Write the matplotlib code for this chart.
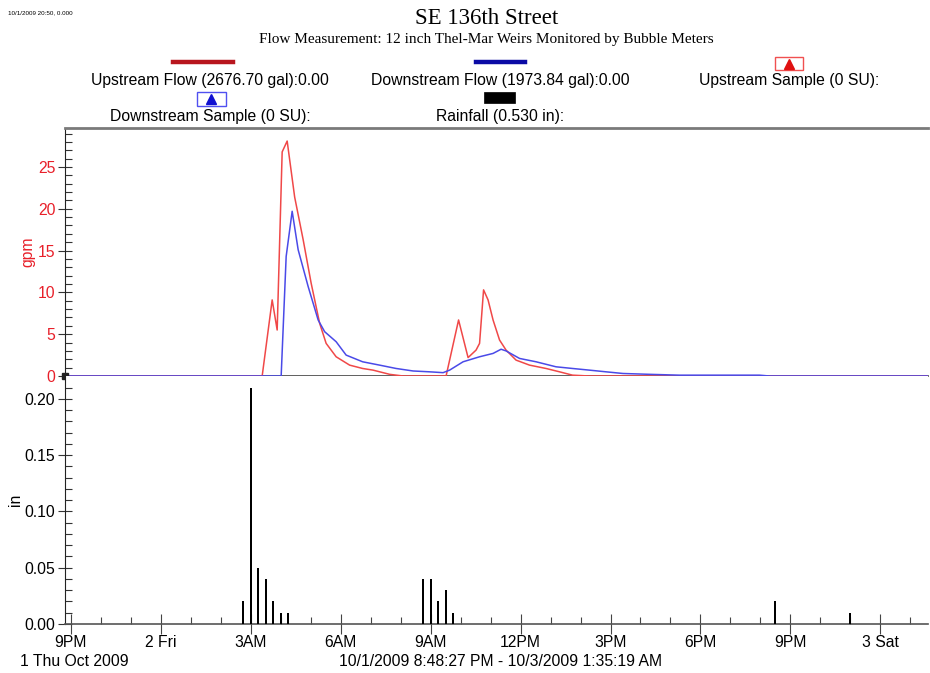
import numpy as np
import pandas as pd
import matplotlib
matplotlib.use("Agg")
import matplotlib.pyplot as plt
import matplotlib.dates as mdates
from matplotlib.lines import Line2D
from matplotlib.patches import Rectangle

plt.rcParams['font.family'] = ['Liberation Sans', 'DejaVu Sans']

# ---------------- data ----------------
start = "2009-10-01 20:48:27"
end = "2009-10-03 01:35:19"

up_times = ["2009-10-01 20:48:27", "2009-10-02 03:23", "2009-10-02 03:43", "2009-10-02 03:53",
            "2009-10-02 04:03", "2009-10-02 04:13", "2009-10-02 04:28", "2009-10-02 04:45",
            "2009-10-02 05:01", "2009-10-02 05:18", "2009-10-02 05:31", "2009-10-02 05:51",
            "2009-10-02 06:18", "2009-10-02 06:44", "2009-10-02 07:05", "2009-10-02 07:38",
            "2009-10-02 08:05", "2009-10-02 09:31", "2009-10-02 09:56", "2009-10-02 10:15",
            "2009-10-02 10:31", "2009-10-02 10:38", "2009-10-02 10:46", "2009-10-02 10:55",
            "2009-10-02 11:05", "2009-10-02 11:18", "2009-10-02 11:31", "2009-10-02 11:51",
            "2009-10-02 12:18", "2009-10-02 12:51", "2009-10-02 13:18", "2009-10-02 13:44",
            "2009-10-02 14:18", "2009-10-03 01:35:19"]
up_flow = [0, 0, 9.1, 5.5, 26.8, 28.1, 21.4, 16.3, 11.1, 6.3, 3.9, 2.3, 1.3, 0.9, 0.7, 0.2,
           0, 0, 6.7, 2.2, 3.1, 3.9, 10.3, 9.1, 6.7, 4.3, 3.1, 1.9, 1.3, 0.9, 0.5, 0.1, 0, 0]

down_times = ["2009-10-01 20:48:27", "2009-10-02 04:01", "2009-10-02 04:11", "2009-10-02 04:23",
              "2009-10-02 04:35", "2009-10-02 04:55", "2009-10-02 05:15", "2009-10-02 05:28",
              "2009-10-02 05:51", "2009-10-02 06:11", "2009-10-02 06:44", "2009-10-02 07:18",
              "2009-10-02 07:51", "2009-10-02 08:25", "2009-10-02 08:58", "2009-10-02 09:25",
              "2009-10-02 09:38", "2009-10-02 10:05", "2009-10-02 10:38", "2009-10-02 11:05",
              "2009-10-02 11:21", "2009-10-02 11:31", "2009-10-02 11:58", "2009-10-02 12:31",
              "2009-10-02 13:11", "2009-10-02 13:44", "2009-10-02 14:18", "2009-10-02 14:51",
              "2009-10-02 15:25", "2009-10-02 16:18", "2009-10-02 17:18", "2009-10-02 19:58",
              "2009-10-02 20:18", "2009-10-03 01:35:19"]
down_flow = [0, 0, 14.3, 19.7, 15.1, 10.7, 6.7, 5.3, 4.1, 2.5, 1.7, 1.3, 0.9, 0.6, 0.5, 0.4,
             0.7, 1.7, 2.3, 2.7, 3.2, 3.0, 2.1, 1.7, 1.1, 0.9, 0.7, 0.5, 0.3, 0.2, 0.1, 0.1, 0, 0]

rain_times = ["2009-10-02 02:45", "2009-10-02 03:00", "2009-10-02 03:15", "2009-10-02 03:30",
              "2009-10-02 03:45", "2009-10-02 04:00", "2009-10-02 04:15",
              "2009-10-02 08:45", "2009-10-02 09:00", "2009-10-02 09:15", "2009-10-02 09:30",
              "2009-10-02 09:45", "2009-10-02 20:30", "2009-10-02 23:00"]
rain_in = [0.02, 0.21, 0.05, 0.04, 0.02, 0.01, 0.01,
           0.04, 0.04, 0.02, 0.03, 0.01, 0.02, 0.01]

tick_times = ["2009-10-01 21:00", "2009-10-02 00:00", "2009-10-02 03:00", "2009-10-02 06:00",
              "2009-10-02 09:00", "2009-10-02 12:00", "2009-10-02 15:00", "2009-10-02 18:00",
              "2009-10-02 21:00", "2009-10-03 00:00"]
tick_labels = ["9PM", "2 Fri", "3AM", "6AM", "9AM", "12PM", "3PM", "6PM", "9PM", "3 Sat"]

gpm_ticks = [0, 5, 10, 15, 20, 25]
in_ticks = [0.00, 0.05, 0.10, 0.15, 0.20]

def dn(s):
    return mdates.date2num(pd.to_datetime(s, format='mixed'))

x_start, x_end = dn(start), dn(end)

# ---------------- figure ----------------
W, H = 930, 673
fig = plt.figure(figsize=(W / 100, H / 100), dpi=100)
fig.patch.set_facecolor('white')

L = 65 / W
Wd = 863 / W
ax1 = fig.add_axes([L, 1 - 376 / H, Wd, (376 - 128) / H])
ax2 = fig.add_axes([L, 1 - 624 / H, Wd, (624 - 376) / H], sharex=ax1)

RED = '#F04848'
BLUE = '#4A4AE8'
FS = 11.3

ax1.plot(dn(up_times), up_flow, color=RED, lw=1.1, zorder=3)
ax1.plot(dn(down_times), down_flow, color=BLUE, lw=1.1, zorder=4)
ax1.set_ylim(0, 29.66)
ax1.set_xlim(x_start, x_end)
ax1.set_yticks(gpm_ticks)
ax1.set_yticklabels([str(v) for v in gpm_ticks], color='#E8202A', fontsize=FS)
ax1.set_yticks(np.arange(0, 30, 1), minor=True)
ax1.tick_params(axis='y', which='major', direction='inout', length=10, width=0.8, color='#333333', pad=2)
ax1.tick_params(axis='y', which='minor', direction='in', length=5, width=0.8, color='#333333')
ax1.set_ylabel('gpm', color='#E8202A', fontsize=FS, labelpad=2)
ax1.tick_params(axis='x', which='both', bottom=False, labelbottom=False)
ax1.spines['right'].set_visible(False)
ax1.spines['top'].set_color('#7a7a7a')
ax1.spines['top'].set_linewidth(2.0)
ax1.spines['left'].set_color('#222222')
ax1.spines['bottom'].set_color('#444444')
ax1.spines['bottom'].set_linewidth(1.2)
ax1.plot([x_start], [0], marker='s', ms=5, color='#222222', clip_on=False, zorder=6)

ax2.bar(dn(rain_times), rain_in, width=4 / 1440, color='black', align='center', zorder=3)
ax2.set_ylim(0, 0.2204)
ax2.set_yticks(in_ticks)
ax2.set_yticklabels([f"{v:.2f}" for v in in_ticks], fontsize=FS)
ax2.set_yticks(np.arange(0, 0.22, 0.01), minor=True)
ax2.tick_params(axis='y', which='major', direction='inout', length=10, width=0.8, color='#333333', pad=2)
ax2.tick_params(axis='y', which='minor', direction='in', length=5, width=0.8, color='#333333')
ax2.set_ylabel('in', fontsize=FS, labelpad=1)
ax2.set_xticks(dn(tick_times))
ax2.set_xticklabels(tick_labels, fontsize=FS)
hour_ticks = mdates.date2num(pd.date_range("2009-10-01 21:00", "2009-10-03 01:00", freq="1h"))
ax2.set_xticks(hour_ticks, minor=True)
ax2.tick_params(axis='x', which='major', direction='inout', length=14, width=0.8, color='#444444', pad=1)
ax2.tick_params(axis='x', which='minor', direction='in', length=5, width=0.8, color='#444444')
for s in ['right', 'top']:
    ax2.spines[s].set_visible(False)
ax2.spines['left'].set_color('#222222')
ax2.spines['bottom'].set_color('#555555')
ax2.spines['bottom'].set_linewidth(1.2)
ax2.set_xlim(x_start, x_end)
ax1.set_xlim(x_start, x_end)

# ---------------- titles ----------------
def fy(py):
    return 1 - py / H

def fx(px):
    return px / W

fig.text(fx(8), fy(13), "10/1/2009 20:50, 0.000", fontsize=4.5, va='center', ha='left')
fig.text(fx(487), fy(18), "SE 136th Street", fontsize=16.5, family=['Liberation Serif'],
         ha='center', va='center')
fig.text(fx(486), fy(40), "Flow Measurement: 12 inch Thel-Mar Weirs Monitored by Bubble Meters",
         fontsize=11, family=['Liberation Serif'], ha='center', va='center')

# legend
fig.add_artist(Line2D([fx(173), fx(233)], [fy(62), fy(62)], color='#B8161E', lw=3.2))
fig.text(fx(210), fy(81), "Upstream Flow (2676.70 gal):0.00", fontsize=FS, ha='center', va='center')
fig.add_artist(Line2D([fx(476), fx(525)], [fy(62), fy(62)], color='#0A0AA5', lw=3.2))
fig.text(fx(500), fy(81), "Downstream Flow (1973.84 gal):0.00", fontsize=FS, ha='center', va='center')
fig.add_artist(Rectangle((fx(775), fy(70)), fx(28), 13 / H, facecolor='white',
                         edgecolor='#F05050', lw=1.0))
fig.add_artist(Line2D([fx(789)], [fy(64)], marker='^', ms=7, color='#E01010', lw=0))
fig.text(fx(789), fy(81), "Upstream Sample (0 SU):", fontsize=FS, ha='center', va='center')
fig.add_artist(Rectangle((fx(197), fy(106)), fx(29), 14 / H, facecolor='white',
                         edgecolor='#5050F0', lw=1.0))
fig.add_artist(Line2D([fx(211)], [fy(99)], marker='^', ms=7, color='#1010D0', lw=0))
fig.text(fx(210), fy(116), "Downstream Sample (0 SU):", fontsize=FS, ha='center', va='center')
fig.add_artist(Rectangle((fx(484), fy(103)), fx(31), 11 / H, facecolor='black',
                         edgecolor='black', lw=0.5))
fig.text(fx(500), fy(116), "Rainfall (0.530 in):", fontsize=FS, ha='center', va='center')

# bottom texts
fig.text(fx(20), fy(661), "1 Thu Oct 2009", fontsize=FS, ha='left', va='center')
fig.text(fx(500), fy(661), "10/1/2009 8:48:27 PM - 10/3/2009 1:35:19 AM", fontsize=FS,
         ha='center', va='center')

fig.savefig("out.png", dpi=100, facecolor='white')
